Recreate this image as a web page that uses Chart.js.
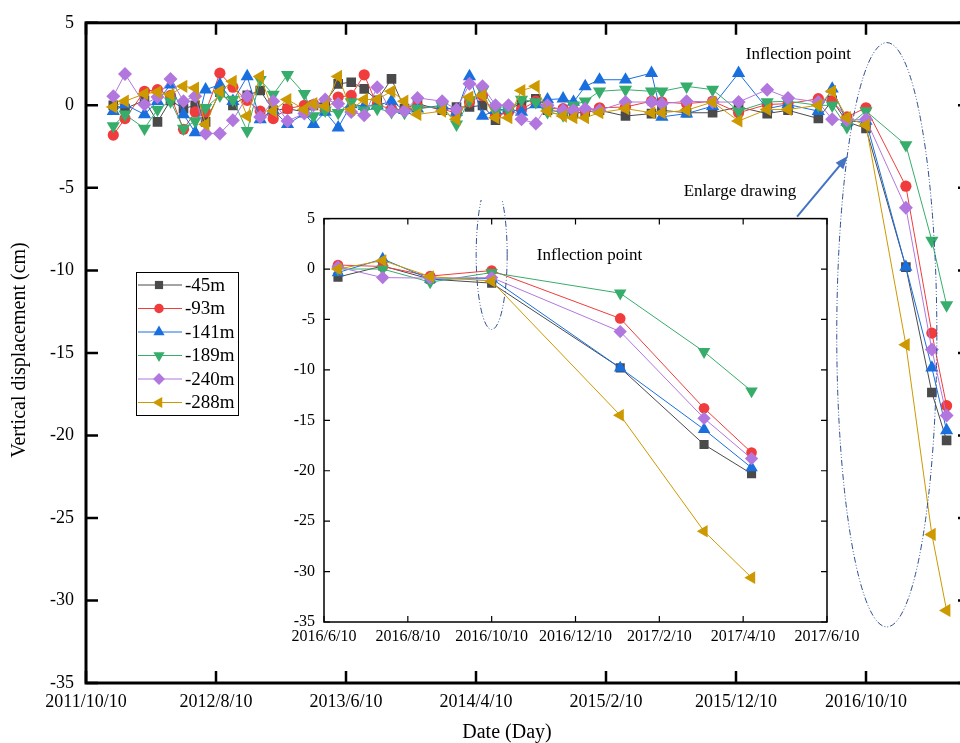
<!DOCTYPE html>
<html lang="en">
<head>
<meta charset="UTF-8">
<title>Vertical displacement</title>
<script src="https://cdn.jsdelivr.net/npm/chart.js@4.4.0/dist/chart.umd.min.js"></script>
<style>
  html, body { margin: 0; padding: 0; background: #fff; overflow: hidden; }
  #wrap { position: relative; width: 980px; height: 743px; }
  #main { position: absolute; left: 0; top: 0; }
  #inset { position: absolute; left: 270px; top: 200px; }
</style>
</head>
<body>
<div id="wrap">
  <canvas id="main" width="980" height="743"></canvas>
  <canvas id="inset" width="600" height="450"></canvas>
</div>
<script>
// ---- data ----
const dates = ['2011/12/13', '2012/1/10', '2012/2/25', '2012/3/25', '2012/4/25', '2012/5/25', '2012/6/22', '2012/7/16',
  '2012/8/19', '2012/9/19', '2012/10/22', '2012/11/22', '2012/12/22', '2013/1/25', '2013/3/4', '2013/3/25',
  '2013/4/22', '2013/5/22', '2013/6/22', '2013/7/22', '2013/8/22', '2013/9/25', '2013/10/25', '2013/11/25',
  '2014/1/22', '2014/2/25', '2014/3/25', '2014/4/25', '2014/5/25', '2014/6/25', '2014/7/25', '2014/8/28',
  '2014/9/25', '2014/11/1', '2014/11/25', '2014/12/22', '2015/1/25', '2015/3/25', '2015/5/25', '2015/6/19',
  '2015/8/16', '2015/10/16', '2015/12/16', '2016/2/22', '2016/4/10', '2016/6/20', '2016/7/22', '2016/8/26',
  '2016/10/10', '2017/1/12', '2017/3/12', '2017/4/16'];

const s45 = [0.0, -0.2, 0.3, -1.0, 0.3, -0.2, 0.0, -1.0, 0.8, 0.0, 0.6, 0.9, -0.3, -0.2, -0.4, 0.0, 0.2, 1.3, 1.4, 1.0,
  0.3, 1.6, -0.2, 0.1, -0.3, -0.1, -0.1, 0.0, -0.9, -0.2, 0.1, 0.4, -0.3, -0.4, -0.5, -0.4, -0.3, -0.65, -0.5, -0.3,
  -0.45, -0.45, -0.1, -0.5, -0.3, -0.8, 0.3, -1.0, -1.4, -9.8, -17.4, -20.3];
const s93 = [-1.8, -0.8, 0.85, 0.95, 0.6, -1.45, -0.4, -0.4, 1.95, 1.1, 0.3, -0.35, -0.8, -0.2, 0.0, 0.05, -0.3, 0.5, 0.6, 1.85,
  0.0, -0.2, -0.3, -0.05, -0.2, -0.5, 0.2, 0.6, -0.6, -0.4, -0.25, 0.25, -0.2, -0.2, -0.3, -0.3, -0.15, -0.1, 0.25, 0.2,
  0.1, 0.25, -0.45, 0.05, 0.1, 0.4, 0.25, -0.7, -0.15, -4.9, -13.8, -18.2];
const s141 = [-0.35, 0.05, -0.55, 0.25, 1.25, -0.55, -1.65, 0.95, 1.25, 0.25, 1.75, -0.85, -0.3, -1.15, -0.5, -1.15, -0.4, -1.35, 0.05, -0.05,
  0.0, 0.25, -0.3, -0.2, 0.0, -0.4, 1.75, -0.65, -0.3, -0.2, -0.4, 0.05, 0.35, 0.4, 0.2, 1.15, 1.55, 1.55, 1.95, -0.7,
  -0.5, -0.05, 1.95, -0.2, 0.05, -0.35, 1.0, -1.0, -0.95, -9.8, -15.9, -19.7];
const s189 = [-1.25, -0.55, -1.4, -0.25, 0.25, -1.4, -0.95, -0.15, 0.6, 0.35, -1.55, 1.55, 0.65, 1.85, 0.7, -0.65, -0.3, -0.45, 0.2, -0.3,
  -0.2, -0.4, -0.45, -0.2, -0.05, -1.15, 0.3, 0.9, -0.3, -0.3, 0.35, 0.2, -0.4, -0.6, 0.0, 0.25, 0.85, 0.95, 0.85, 0.85,
  1.15, 0.95, -0.35, 0.2, 0.25, 0.0, 0.0, -1.3, -0.35, -2.4, -8.2, -12.1];
const s240 = [0.55, 1.9, 0.05, 0.5, 1.6, 0.25, 0.55, -1.7, -1.7, -0.9, 0.55, -0.7, 0.25, -0.95, -0.5, 0.0, 0.35, 0.1, -0.4, -0.6,
  1.1, -0.35, -0.35, 0.45, 0.25, -0.25, 1.3, 1.15, 0.0, 0.0, -0.85, -1.1, 0.0, -0.3, -0.3, -0.2, -0.3, 0.2, 0.2, 0.1,
  0.25, 0.2, 0.2, 0.95, 0.45, 0.2, -0.85, -0.9, -0.85, -6.2, -14.8, -18.8];
const s288 = [-0.1, 0.25, 0.7, 0.8, 0.65, 1.15, 1.05, -1.15, 0.85, 1.45, -0.65, 1.75, -0.35, 0.35, -0.25, 0.1, -0.05, 1.75, -0.25, 0.35,
  0.35, 0.85, 0.25, -0.55, -0.35, -0.85, 0.5, 0.6, -0.75, -0.75, 0.9, 1.15, -0.35, -0.65, -0.75, -0.75, -0.45, -0.2, -0.45, -0.45,
  -0.3, 0.2, -0.95, -0.25, -0.25, 0.0, 0.85, -0.75, -1.2, -14.5, -26.0, -30.6];

const seriesNames = ['-45m', '-93m', '-141m', '-189m', '-240m', '-288m'];
const seriesValues = [s45, s93, s141, s189, s240, s288];

const yTicks = [5, 0, -5, -10, -15, -20, -25, -30, -35];
const mainTickDates = ['2011/10/10', '2012/8/10', '2013/6/10', '2014/4/10', '2015/2/10', '2015/12/10', '2016/10/10'];
const mainEnd = '2017/6/10';
const insetTickDates = ['2016/6/10', '2016/8/10', '2016/10/10', '2016/12/10', '2017/2/10', '2017/4/10', '2017/6/10'];
const insetFrom = 45; // the inset shows the last points

// ---- styles ----
const colors = ['#4a4a4a', '#f03c3c', '#1a6fdf', '#37ad6b', '#b177de', '#cc9900'];
const markerStyle = ['rect', 'circle', 'triangle', 'triangle', 'rectRot', 'triangle'];
const markerRot = [0, 0, 0, 180, 0, 270];
const markerSize = [6.8, 5.6, 7.6, 7.6, 7, 7.6];
const serif = "'Liberation Serif', 'Times New Roman', serif";

function toMonths(s, origin) {
  const a = s.split('/').map(Number), b = origin.split('/').map(Number);
  return (a[0] - b[0]) * 12 + (a[1] - b[1]) + (a[2] - b[2]) / 30;
}

function buildSets(from, origin, scale) {
  return seriesValues.map((vals, i) => ({
    label: seriesNames[i],
    data: vals.slice(from).map((v, k) => ({ x: toMonths(dates[from + k], origin), y: v })),
    borderColor: colors[i],
    backgroundColor: colors[i],
    borderWidth: 1,
    pointStyle: markerStyle[i],
    rotation: markerRot[i],
    pointRadius: markerSize[i] * scale,
    pointBorderWidth: 0,
    order: seriesNames.length - i
  }));
}

// frame with inward ticks on all four sides
const framePlugin = {
  id: 'frame',
  afterDatasetsDraw(chart, args, o) {
    const { ctx, chartArea: a, scales: { x, y } } = chart;
    ctx.save();
    ctx.strokeStyle = '#000';
    ctx.lineWidth = o.tickWidth;
    ctx.beginPath();
    x.ticks.forEach(t => {
      const p = x.getPixelForValue(t.value);
      ctx.moveTo(p, a.bottom); ctx.lineTo(p, a.bottom - o.len);
      ctx.moveTo(p, a.top); ctx.lineTo(p, a.top + o.len);
    });
    y.ticks.forEach(t => {
      const p = y.getPixelForValue(t.value);
      ctx.moveTo(a.left, p); ctx.lineTo(a.left + o.len, p);
      ctx.moveTo(a.right, p); ctx.lineTo(a.right - o.len, p);
    });
    ctx.stroke();
    ctx.lineWidth = o.width;
    ctx.strokeRect(a.left, a.top, a.right - a.left, a.bottom - a.top);
    ctx.restore();
  }
};

function dashEllipse(ctx, chart, e, origin) {
  const { x, y } = chart.scales;
  const cx = x.getPixelForValue(toMonths(e.date, origin));
  const cy = y.getPixelForValue(e.y);
  const rx = Math.abs(x.getPixelForValue(toMonths(e.date, origin) + e.halfMonths) - cx);
  const ry = Math.abs(y.getPixelForValue(e.y + e.halfY) - cy);
  ctx.save();
  ctx.strokeStyle = '#2f4f8f';
  ctx.lineWidth = 1;
  ctx.setLineDash([6, 2, 1, 2, 1, 2]);
  ctx.beginPath();
  ctx.ellipse(cx, cy, rx, ry, 0, 0, Math.PI * 2);
  ctx.stroke();
  ctx.restore();
}

function label(ctx, chart, t, origin, size) {
  const { x, y } = chart.scales;
  ctx.save();
  ctx.fillStyle = '#000';
  ctx.font = size + 'px ' + serif;
  ctx.textAlign = 'center';
  ctx.textBaseline = 'middle';
  ctx.fillText(t.text, x.getPixelForValue(toMonths(t.date, origin)), y.getPixelForValue(t.y));
  ctx.restore();
}

// annotations (in data units)
const mainOrigin = mainTickDates[0];
const insetOrigin = insetTickDates[0];
const bigEllipse = { date: '2016/11/28', y: -13.9, halfMonths: 3.85, halfY: 17.7 };
const smallEllipse = { date: '2016/10/10', y: 1.4, halfMonths: 0.37, halfY: 7.4 };
const mainNotes = [{ text: 'Inflection point', date: '2016/5/4', y: 3.07 }, { text: 'Enlarge drawing', date: '2015/12/19', y: -5.24 }];
const insetNotes = [{ text: 'Inflection point', date: '2016/12/20', y: 1.3 }];
const arrow = { from: ['2016/5/1', -6.75], to: ['2016/8/28', -3.07] };

const mainDeco = {
  id: 'mainDeco',
  afterDatasetsDraw(chart) {
    const ctx = chart.ctx;
    const { x, y, } = chart.scales;
    dashEllipse(ctx, chart, bigEllipse, mainOrigin);
    mainNotes.forEach(t => label(ctx, chart, t, mainOrigin, 17));
    // arrow
    const x1 = x.getPixelForValue(toMonths(arrow.from[0], mainOrigin)), y1 = y.getPixelForValue(arrow.from[1]);
    const x2 = x.getPixelForValue(toMonths(arrow.to[0], mainOrigin)), y2 = y.getPixelForValue(arrow.to[1]);
    const ang = Math.atan2(y2 - y1, x2 - x1);
    ctx.save();
    ctx.strokeStyle = '#4472c4';
    ctx.fillStyle = '#4472c4';
    ctx.lineWidth = 2;
    ctx.beginPath();
    ctx.moveTo(x1, y1);
    ctx.lineTo(x2 - 10 * Math.cos(ang), y2 - 10 * Math.sin(ang));
    ctx.stroke();
    ctx.beginPath();
    ctx.moveTo(x2, y2);
    ctx.lineTo(x2 - 13 * Math.cos(ang) + 5 * Math.sin(ang), y2 - 13 * Math.sin(ang) - 5 * Math.cos(ang));
    ctx.lineTo(x2 - 13 * Math.cos(ang) - 5 * Math.sin(ang), y2 - 13 * Math.sin(ang) + 5 * Math.cos(ang));
    ctx.closePath();
    ctx.fill();
    ctx.restore();

    // axis titles
    ctx.save();
    ctx.fillStyle = '#000';
    ctx.font = '20px ' + serif;
    ctx.textAlign = 'center';
    ctx.textBaseline = 'middle';
    ctx.fillText('Date (Day)', 507, 733);
    ctx.translate(20, 350);
    ctx.rotate(-Math.PI / 2);
    ctx.fillText('Vertical displacement (cm)', 0, 0);
    ctx.restore();

    // legend
    const box = { l: 136, t: 272, w: 102, h: 143 };
    ctx.save();
    ctx.fillStyle = '#fff';
    ctx.fillRect(box.l, box.t, box.w, box.h);
    ctx.strokeStyle = '#000';
    ctx.lineWidth = 1;
    ctx.strokeRect(box.l + 0.5, box.t + 0.5, box.w, box.h);
    ctx.font = '19px ' + serif;
    ctx.textBaseline = 'middle';
    seriesNames.forEach((n, i) => {
      const yy = box.t + 13 + i * 23.5;
      ctx.strokeStyle = colors[i];
      ctx.lineWidth = 1;
      ctx.beginPath();
      ctx.moveTo(box.l + 2, yy); ctx.lineTo(box.l + 46, yy);
      ctx.stroke();
      ctx.fillStyle = colors[i];
      Chart.helpers.drawPoint(ctx, { pointStyle: markerStyle[i], rotation: markerRot[i], radius: markerSize[i] * 0.85, borderWidth: 0 }, box.l + 23, yy);
      ctx.fillStyle = '#000';
      ctx.fillText(n, box.l + 49, yy + 1);
    });
    ctx.restore();
  }
};

const insetDeco = {
  id: 'insetDeco',
  afterDatasetsDraw(chart) {
    dashEllipse(chart.ctx, chart, smallEllipse, insetOrigin);
    insetNotes.forEach(t => label(chart.ctx, chart, t, insetOrigin, 17));
  }
};

function axes(tickDates, origin, end, tickFont, xPad, yPad, yWidth, xHeight) {
  return {
    x: {
      type: 'linear',
      min: 0,
      max: toMonths(end, origin),
      grid: { display: false, drawTicks: false },
      border: { display: false },
      afterBuildTicks: ax => { ax.ticks = tickDates.map(d => ({ value: toMonths(d, origin) })); },
      afterFit: ax => { ax.height = xHeight; },
      ticks: {
        autoSkip: false, maxRotation: 0, padding: xPad, color: '#000',
        font: { family: serif, size: tickFont },
        callback: (v, i) => tickDates[i]
      }
    },
    y: {
      min: -35,
      max: 5,
      grid: { display: false, drawTicks: false },
      border: { display: false },
      afterBuildTicks: ax => { ax.ticks = yTicks.map(v => ({ value: v })); },
      afterFit: ax => { ax.width = yWidth; },
      ticks: {
        padding: yPad, color: '#000',
        font: { family: serif, size: tickFont },
        callback: v => String(v)
      }
    }
  };
}

new Chart(document.getElementById('main'), {
  type: 'line',
  data: { datasets: buildSets(0, mainOrigin, 1) },
  options: {
    responsive: false,
    animation: false,
    layout: { padding: { left: 0, top: 18, right: 10, bottom: 0 } },
    plugins: { legend: { display: false }, tooltip: { enabled: false }, frame: { width: 3, tickWidth: 2.5, len: 12 } },
    scales: axes(mainTickDates, mainOrigin, mainEnd, 18, 8, 12, 86, 60)
  },
  plugins: [framePlugin, mainDeco]
});

new Chart(document.getElementById('inset'), {
  type: 'line',
  data: { datasets: buildSets(insetFrom, insetOrigin, 0.95) },
  options: {
    responsive: false,
    animation: false,
    layout: { padding: { left: 0, top: 11, right: 43, bottom: 0 } },
    plugins: { legend: { display: false }, tooltip: { enabled: false }, frame: { width: 1.5, tickWidth: 1.2, len: 6 } },
    scales: axes(insetTickDates, insetOrigin, insetTickDates[insetTickDates.length - 1], 16, 5, 9, 54, 28)
  },
  plugins: [framePlugin, insetDeco]
});
</script>
</body>
</html>
